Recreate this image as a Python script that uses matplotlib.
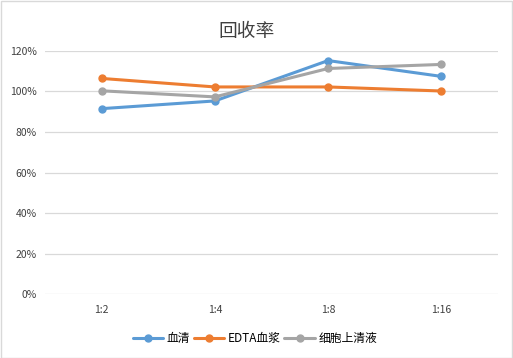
import matplotlib
matplotlib.use("Agg")
import matplotlib.pyplot as plt
from matplotlib.ticker import PercentFormatter

plt.rcParams['font.family'] = ['Noto Sans CJK SC', 'DejaVu Sans']

# 数据
categories = ['1:2', '1:4', '1:8', '1:16']
serum = [91.5, 95.3, 115.2, 107.4]
edta_plasma = [106.4, 102.2, 102.2, 100.2]
cell_supernatant = [100.3, 97.3, 111.3, 113.3]
series_names = ['血清', 'EDTA血浆', '细胞上清液']
colors = ['#5B9BD5', '#ED7D31', '#A5A5A5']
y_ticks = [0, 20, 40, 60, 80, 100, 120]

fig = plt.figure(figsize=(5.13, 3.58), dpi=100)
ax = fig.add_axes([0.0877, 0.178, 0.883, 0.68])

x = list(range(len(categories)))
for vals, name, c in zip([serum, edta_plasma, cell_supernatant], series_names, colors):
    ax.plot(x, vals, color=c, lw=2.2, marker='o', ms=5, label=name,
            solid_capstyle='round')

ax.set_xlim(-0.5, len(categories) - 0.5)
ax.set_ylim(0, 120)
ax.set_yticks(y_ticks)
ax.yaxis.set_major_formatter(PercentFormatter(decimals=0))
ax.set_xticks(x)
ax.set_xticklabels(categories)
ax.grid(axis='y', color='#D9D9D9', lw=0.9)
ax.set_axisbelow(True)
for s in ax.spines.values():
    s.set_visible(False)
ax.tick_params(length=0, labelsize=7.5, colors='#404040', pad=6)
ax.tick_params(axis='x', pad=8)

fig.text(0.481, 0.912, '回收率', ha='center', va='center', fontsize=13.5,
         color='#404040', fontweight='light')

fig.legend(loc='center', bbox_to_anchor=(0.497, 0.055), ncol=3, frameon=False,
           fontsize=8.5, handlelength=2.6, handletextpad=0.3, columnspacing=0.3,
           labelcolor='#000000')

# 外边框
fig.patches.append(plt.Rectangle((0.001, 0.001), 0.997, 0.997, transform=fig.transFigure,
                                 fill=False, edgecolor='#D9D9D9', lw=1))

fig.savefig('out.png', dpi=100)
